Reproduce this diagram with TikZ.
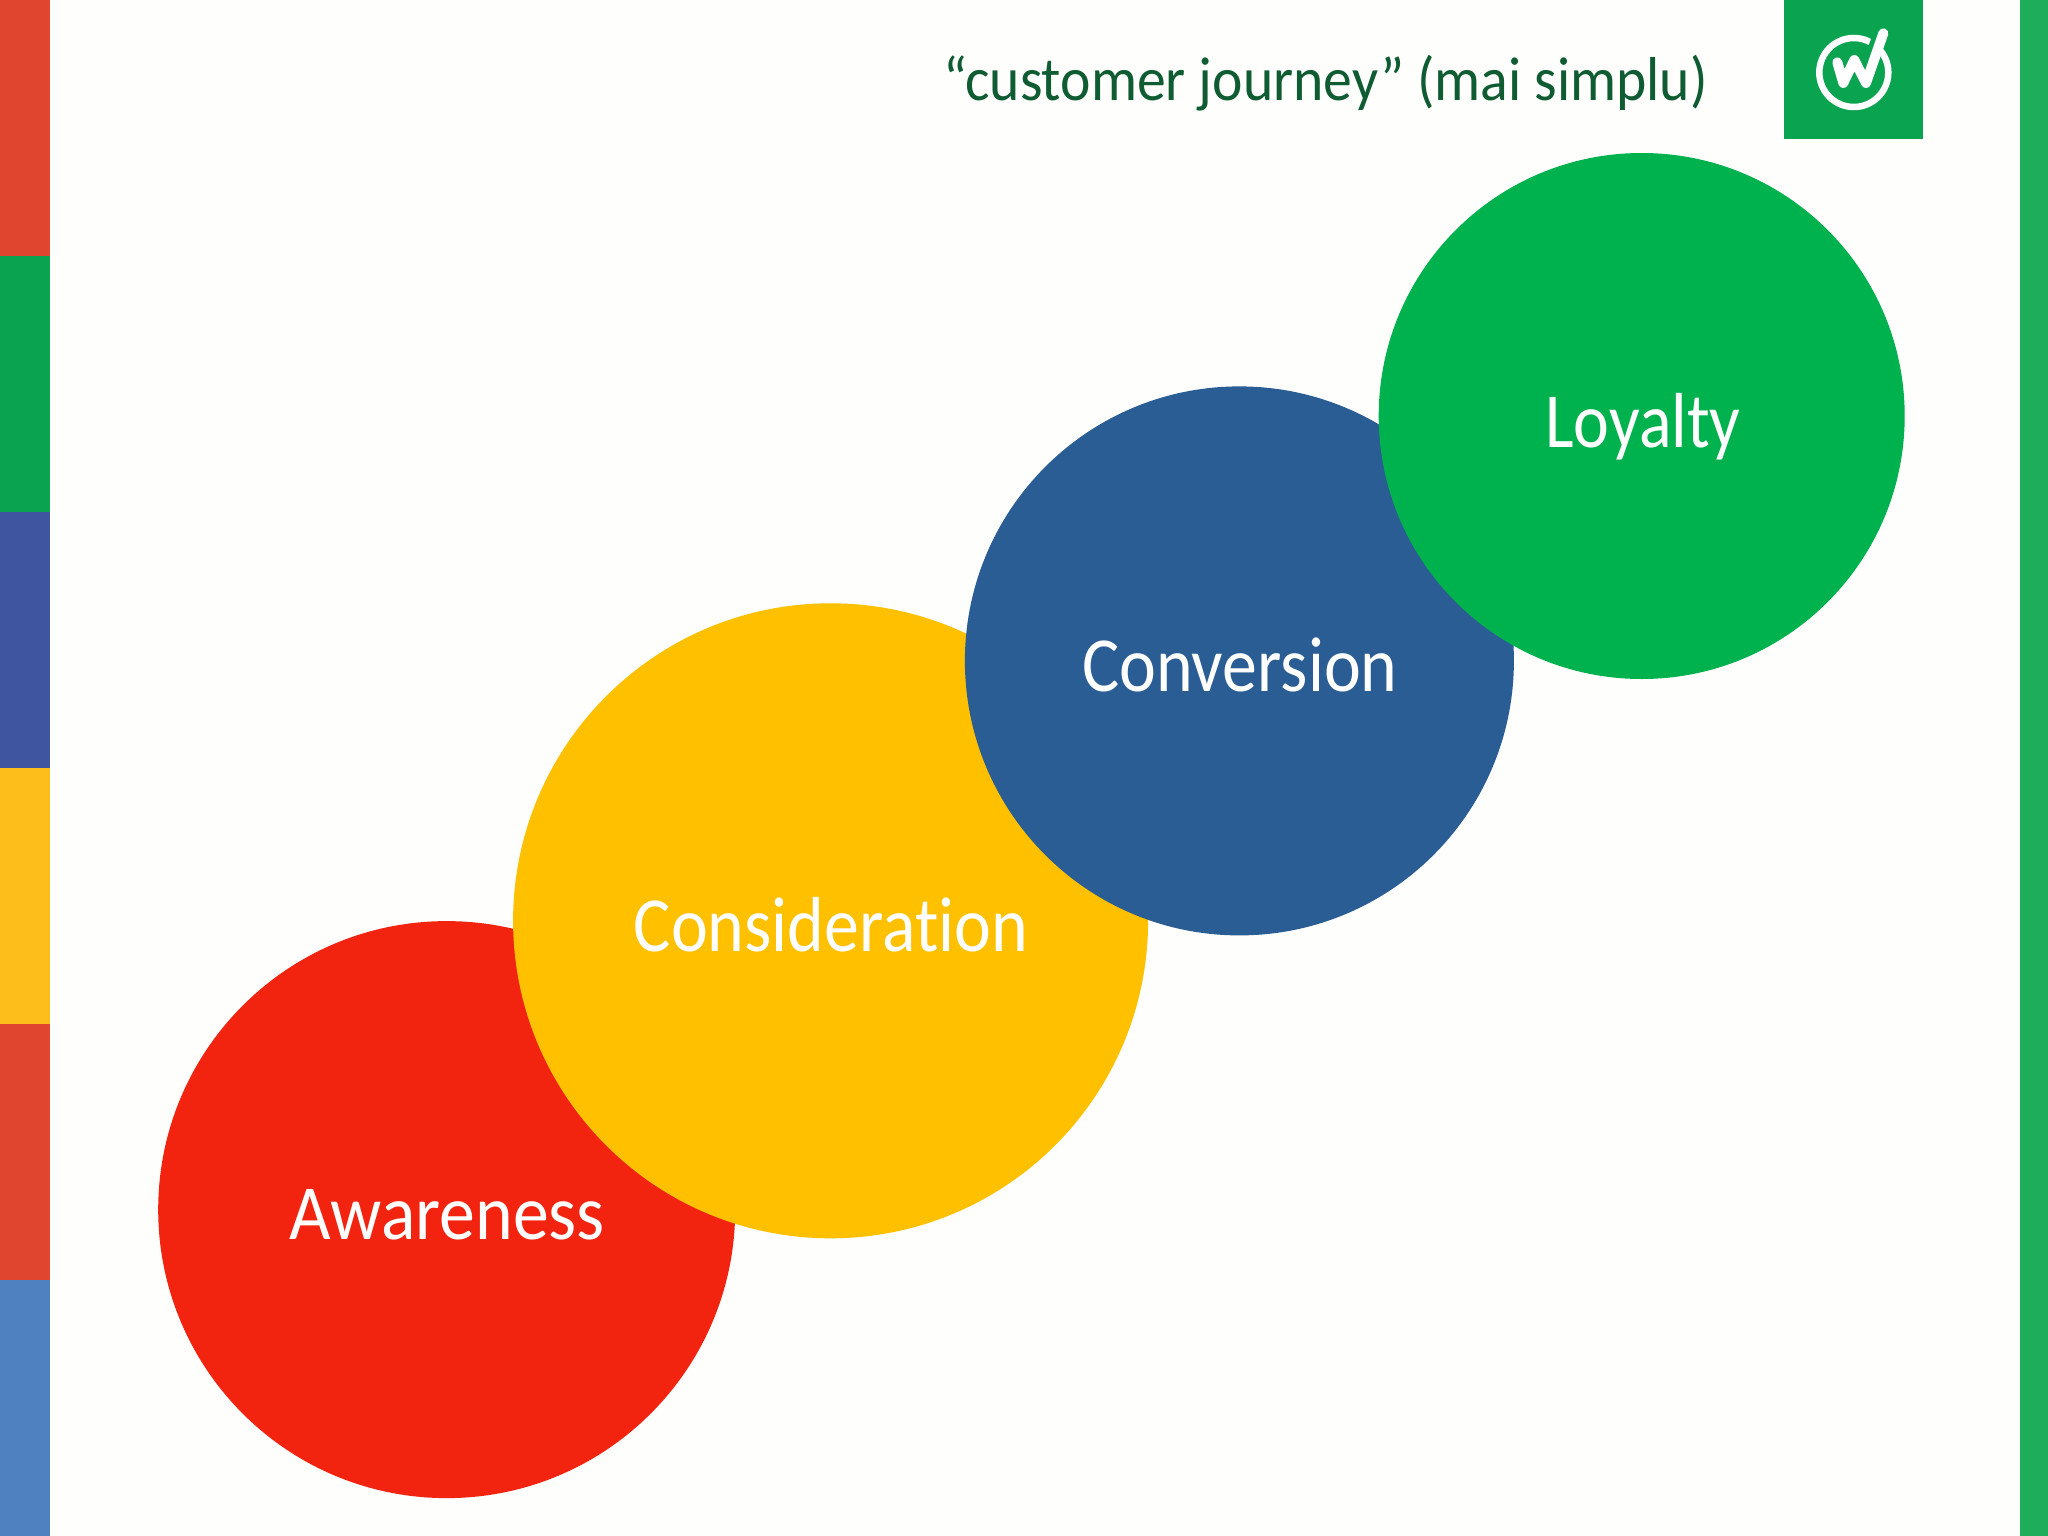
\documentclass[tikz,border=0pt]{standalone}
\usepackage{fontspec}
\setmainfont[Ligatures=NoCommon]{Carlito}
\newfontfamily\awarefont[FakeStretch=0.92,Ligatures=NoCommon]{Carlito}
\newfontfamily\considerfont[FakeStretch=0.895,Ligatures=NoCommon]{Carlito}
\newfontfamily\loyalfont[FakeStretch=0.87,Ligatures=NoCommon]{Carlito}
\newfontfamily\titlefont[FakeStretch=0.93,Ligatures=NoCommon]{Carlito}
\definecolor{pagebg}{HTML}{FEFEFC}
\definecolor{barred}{HTML}{E04530}
\definecolor{bargreen}{HTML}{0AA350}
\definecolor{barblue}{HTML}{3F55A0}
\definecolor{baryellow}{HTML}{FDBD1A}
\definecolor{barsky}{HTML}{4F80BF}
\definecolor{barright}{HTML}{1EAE5B}
\definecolor{cred}{HTML}{F22410}
\definecolor{cyellow}{HTML}{FFC000}
\definecolor{cblue}{HTML}{2A5D93}
\definecolor{cgreen}{HTML}{00B24D}
\definecolor{titlegreen}{HTML}{0F5C33}
\tikzset{
  disc/.style={circle,inner sep=0pt,outer sep=0pt,minimum size=#1},
  disclabel/.style={anchor=base,inner sep=0pt,text=white},
  logoline/.style={white,line width=10pt,line cap=round,line join=round}
}
\newcommand{\labelsize}{\fontsize{78}{78}\selectfont}
\begin{document}
\begin{tikzpicture}[x=1pt,y=-1pt]
\useasboundingbox (0,0) rectangle (2048,1536);
\fill[pagebg] (0,0) rectangle (2048,1536);
% left bar
\fill[barred] (0,0) rectangle (49.5,256);
\fill[bargreen] (0,256) rectangle (49.5,512);
\fill[barblue] (0,512) rectangle (49.5,768);
\fill[baryellow] (0,768) rectangle (49.5,1024);
\fill[barred] (0,1024) rectangle (49.5,1280);
\fill[barsky] (0,1280) rectangle (49.5,1536);
% right bar
\fill[barright] (2020,0) rectangle (2048,1536);
% discs
\node[disc=577pt,fill=cred] (awareness) at (446.7,1209.6) {};
\node[disc=635pt,fill=cyellow] (consideration) at (830.6,920.8) {};
\node[disc=549pt,fill=cblue] (conversion) at (1239.4,660.9) {};
\node[disc=526pt,fill=cgreen] (loyalty) at (1641.7,416) {};
% labels
\node[disclabel,font=\awarefont\labelsize] (lawareness) at (447,1239) {Awareness};
\node[disclabel,font=\considerfont\labelsize] (lconsideration) at (831,951) {Consideration};
\node[disclabel,font=\considerfont\labelsize] (lconversion) at (1240,691) {Conversion};
\node[disclabel,font=\loyalfont\labelsize] (lloyalty) at (1643,447) {Loyalty};
% title
\node[anchor=base east,inner sep=0pt,text=titlegreen,font=\titlefont\fontsize{62}{62}\selectfont] (title) at (1708,101) {“customer journey” (mai simplu)};
% logo
\node[fill=bargreen,anchor=north west,inner sep=0pt,minimum size=139pt] (logobox) at (1784,0) {};
\draw[white,line width=6.5pt] (1853.8,72.5) circle (34.5);
\draw[bargreen,line width=14pt,line cap=round] (1873,53) -- (1881,33);
\draw[logoline] (1837.3,62.3) -- (1843.3,83) -- (1854.3,60) -- (1866,83) -- (1883.3,33.3);
\end{tikzpicture}
\end{document}
